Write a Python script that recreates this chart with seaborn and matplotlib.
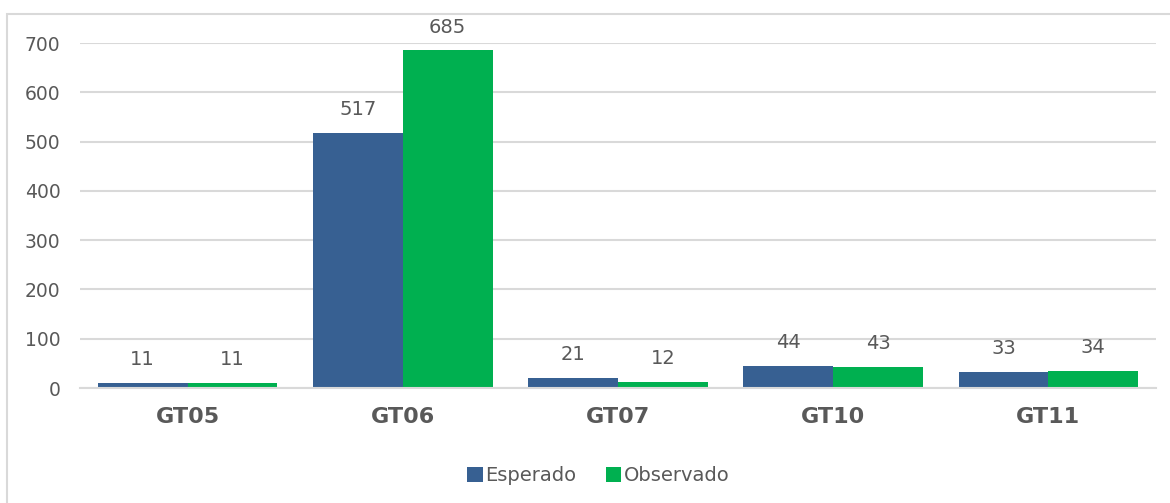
import matplotlib
matplotlib.use("Agg")
import matplotlib.pyplot as plt
import pandas as pd
import seaborn as sns
from matplotlib.patches import Rectangle

groups = ["GT05", "GT06", "GT07", "GT10", "GT11"]
esperado = [11, 517, 21, 44, 33]
observado = [11, 685, 12, 43, 34]
series_names = ["Esperado", "Observado"]
palette = {"Esperado": "#376092", "Observado": "#00B050"}

df = pd.DataFrame({
    "grupo": groups * 2,
    "serie": [series_names[0]] * len(groups) + [series_names[1]] * len(groups),
    "valor": esperado + observado,
})

sns.set_theme(style="white")
plt.rcParams["font.family"] = ["DejaVu Sans"]
text_color = "#595959"
grid_color = "#d9d9d9"

fig = plt.figure(figsize=(11.7, 5.03), dpi=100)
ax = fig.add_axes([0.0684, 0.2286, 0.9196, 0.6859])

sns.barplot(data=df, x="grupo", y="valor", hue="serie", palette=palette,
            width=0.835, saturation=1, linewidth=0, ax=ax)

for container in ax.containers:
    ax.bar_label(container, padding=10, fontsize=14, color=text_color)

ax.set_ylim(0, 700)
ax.set_yticks(range(0, 701, 100))
ax.set_xlim(-0.5, len(groups) - 0.5)
ax.yaxis.grid(True, color=grid_color, linewidth=1.5)
ax.set_axisbelow(True)
for side in ["top", "right", "left"]:
    ax.spines[side].set_visible(False)
ax.spines["bottom"].set_color(grid_color)
ax.spines["bottom"].set_linewidth(1.5)
ax.tick_params(axis="y", length=0, labelsize=13.5, labelcolor=text_color, pad=14)
ax.tick_params(axis="x", length=0, labelsize=16, labelcolor=text_color, pad=14)
for lbl in ax.get_xticklabels():
    lbl.set_fontweight("bold")
ax.set_xlabel("")
ax.set_ylabel("")

ax.legend(loc="upper center", bbox_to_anchor=(0.482, -0.175), ncol=2, frameon=False,
          fontsize=14, labelcolor=text_color, handlelength=0.8, handleheight=0.8,
          handletextpad=0.15, columnspacing=1.5)

# light outer frame of the chart area
fig.patches.append(Rectangle((7 / 1170, -0.2), 1.5, 1.2 - 14 / 503,
                             transform=fig.transFigure, fill=False,
                             edgecolor=grid_color, linewidth=1.5))

fig.savefig("out.png", dpi=100)
plt.close(fig)
